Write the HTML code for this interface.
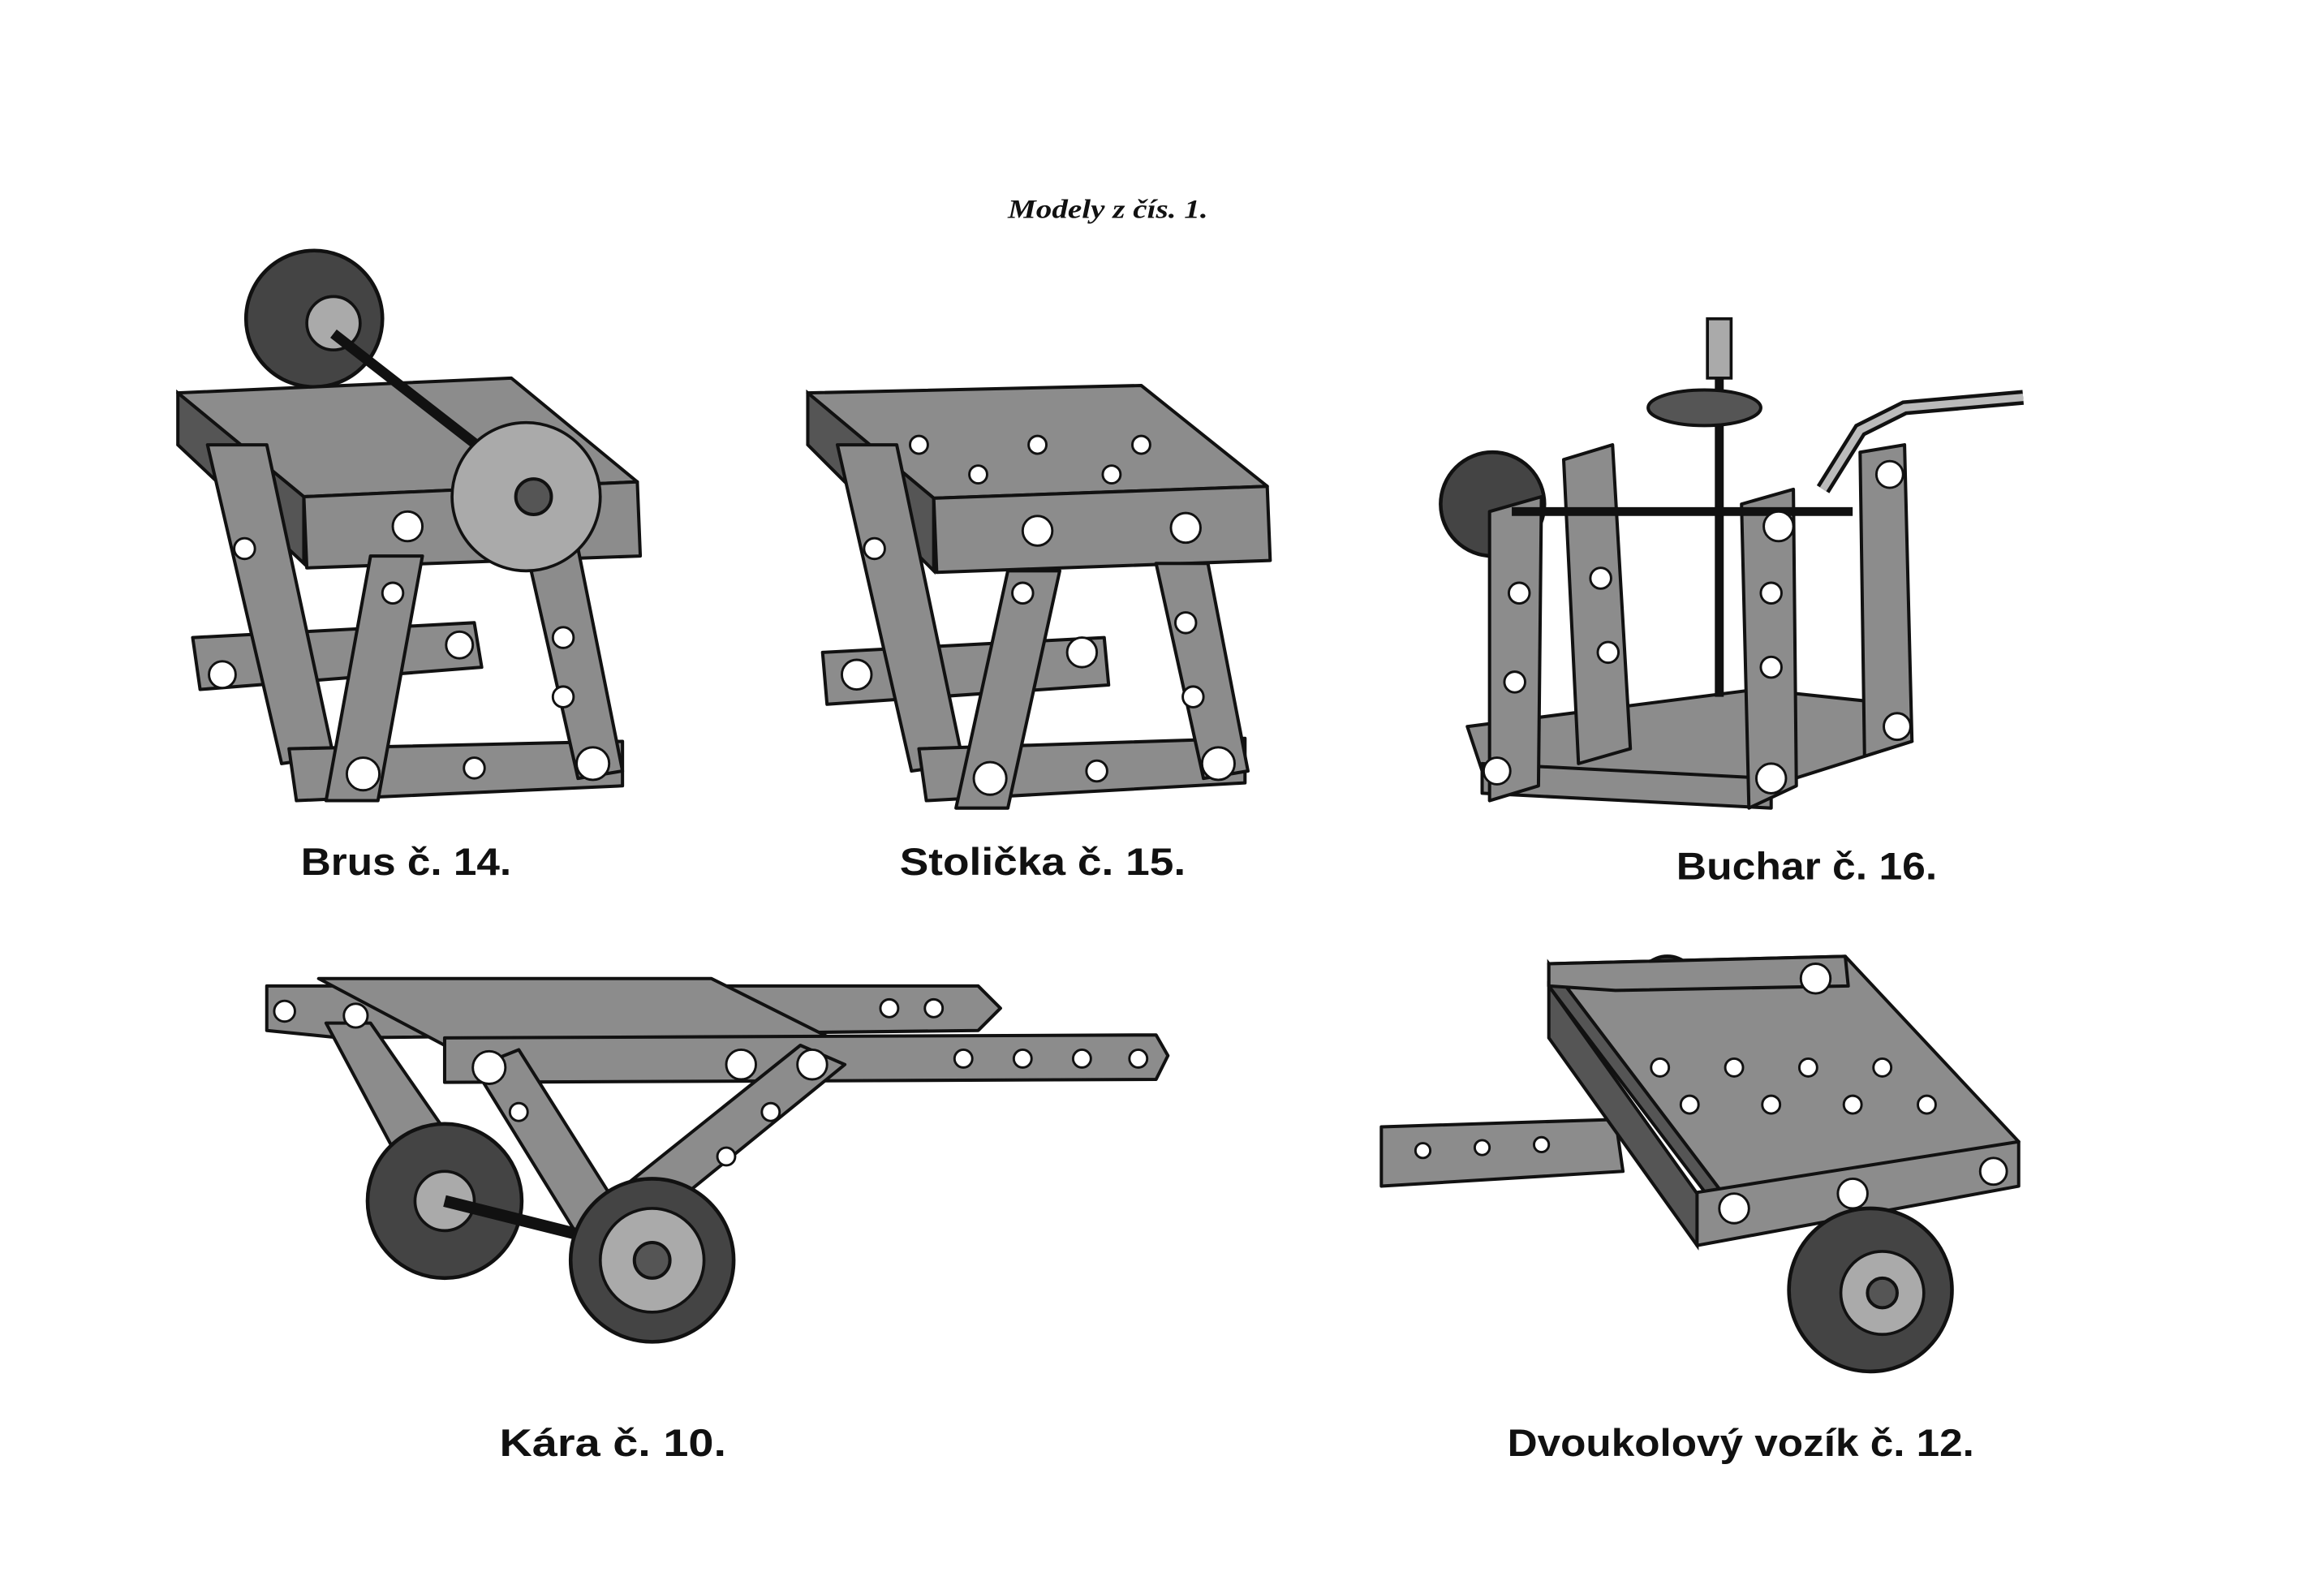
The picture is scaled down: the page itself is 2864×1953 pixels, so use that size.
<!DOCTYPE html>
<html><head><meta charset="utf-8"><style>
html,body{margin:0;padding:0;background:#fff;}
svg{display:block;}
.p{fill:#8c8c8c;stroke:#111;stroke-width:2.2;stroke-linejoin:round}
.d{fill:#555;stroke:#111;stroke-width:2.2}
.h{fill:#fff;stroke:#111;stroke-width:1.6}
.w{fill:#444;stroke:#111;stroke-width:2.5}
.l{fill:#aaa;stroke:#111;stroke-width:2}
.t{font-family:"Liberation Sans",sans-serif;font-size:26px;font-weight:bold;fill:#111}
</style></head><body>
<svg width="2864" height="1953" viewBox="0 0 1568 1069" preserveAspectRatio="none" xmlns="http://www.w3.org/2000/svg">
<rect width="1568" height="1069" fill="#fff"/>
<text x="680" y="147" textLength="135" lengthAdjust="spacingAndGlyphs" font-family="Liberation Serif,serif" font-style="italic" font-weight="bold" font-size="18" fill="#111">Modely z čís. 1.</text>

<!-- Brus -->
<g>
<circle class="w" cx="212" cy="215" r="46"/><circle class="l" cx="225" cy="218" r="18"/>
<polygon class="p" points="130,430 320,420 325,450 135,465"/>
<polygon class="p" points="120,265 345,255 430,325 205,335"/>
<polygon class="d" points="120,265 205,335 205,380 120,300"/>
<polygon class="p" points="205,335 430,325 432,375 207,383"/>
<polygon class="p" points="140,300 180,300 225,510 190,515"/>
<polygon class="p" points="195,505 420,500 420,530 200,540"/>
<polygon class="p" points="250,375 285,375 255,540 220,540"/>
<polygon class="p" points="355,370 390,370 420,520 390,525"/>
<line x1="225" y1="225" x2="360" y2="330" stroke="#111" stroke-width="7"/>
<circle class="l" cx="355" cy="335" r="50"/><circle class="d" cx="360" cy="335" r="12"/>
<circle class="h" cx="150" cy="455" r="9"/><circle class="h" cx="310" cy="435" r="9"/><circle class="h" cx="245" cy="522" r="11"/><circle class="h" cx="400" cy="515" r="11"/><circle class="h" cx="275" cy="355" r="10"/>
<circle class="h" cx="165" cy="370" r="7"/><circle class="h" cx="265" cy="400" r="7"/><circle class="h" cx="380" cy="430" r="7"/><circle class="h" cx="380" cy="470" r="7"/><circle class="h" cx="320" cy="518" r="7"/>
</g>

<!-- Stolicka -->
<g>
<polygon class="p" points="555,440 745,430 748,462 558,475"/>
<polygon class="p" points="545,265 770,260 855,328 630,336"/>
<polygon class="d" points="545,265 630,336 630,385 545,300"/>
<polygon class="p" points="630,336 855,328 857,378 632,386"/>
<polygon class="p" points="565,300 605,300 650,515 615,520"/>
<polygon class="p" points="620,505 840,498 840,528 625,540"/>
<polygon class="p" points="680,385 715,385 680,545 645,545"/>
<polygon class="p" points="780,380 815,380 842,520 812,525"/>
<circle class="h" cx="578" cy="455" r="10"/><circle class="h" cx="730" cy="440" r="10"/><circle class="h" cx="668" cy="525" r="11"/><circle class="h" cx="822" cy="515" r="11"/><circle class="h" cx="700" cy="358" r="10"/><circle class="h" cx="800" cy="356" r="10"/>
<circle class="h" cx="590" cy="370" r="7"/><circle class="h" cx="690" cy="400" r="7"/><circle class="h" cx="800" cy="420" r="7"/><circle class="h" cx="805" cy="470" r="7"/><circle class="h" cx="740" cy="520" r="7"/>
<circle class="h" cx="620" cy="300" r="6"/><circle class="h" cx="700" cy="300" r="6"/><circle class="h" cx="770" cy="300" r="6"/><circle class="h" cx="660" cy="320" r="6"/><circle class="h" cx="750" cy="320" r="6"/>
</g>

<!-- Buchar -->
<g>
<circle class="w" cx="1007" cy="340" r="35"/>
<polygon class="p" points="990,490 1185,465 1280,475 1290,500 1195,530 1000,520"/>
<polygon class="p" points="1000,515 1195,525 1195,545 1000,535"/>
<polygon class="p" points="1055,310 1088,300 1100,505 1065,515"/>
<polygon class="p" points="1175,340 1210,330 1212,530 1180,545"/>
<polygon class="p" points="1005,345 1040,335 1038,530 1005,540"/>
<polygon class="p" points="1255,305 1285,300 1290,500 1258,510"/>
<line x1="1160" y1="225" x2="1160" y2="470" stroke="#111" stroke-width="6"/>
<rect x="1152" y="215" width="16" height="40" class="l"/>
<ellipse class="d" cx="1150" cy="275" rx="38" ry="12"/>
<line x1="1020" y1="345" x2="1250" y2="345" stroke="#111" stroke-width="6"/>
<path d="M1230,330 L1255,290 L1285,275 L1365,268" fill="none" stroke="#111" stroke-width="10"/>
<path d="M1230,330 L1255,290 L1285,275 L1365,268" fill="none" stroke="#bbb" stroke-width="5"/>
<circle class="h" cx="1195" cy="525" r="10"/><circle class="h" cx="1280" cy="490" r="9"/><circle class="h" cx="1010" cy="520" r="9"/><circle class="h" cx="1200" cy="355" r="10"/><circle class="h" cx="1275" cy="320" r="9"/>
<circle class="h" cx="1080" cy="390" r="7"/><circle class="h" cx="1085" cy="440" r="7"/><circle class="h" cx="1195" cy="400" r="7"/><circle class="h" cx="1195" cy="450" r="7"/><circle class="h" cx="1025" cy="400" r="7"/><circle class="h" cx="1022" cy="460" r="7"/>
</g>

<!-- Kara -->
<g>
<polygon class="p" points="180,665 660,665 675,680 660,695 230,700 180,695"/>
<polygon class="p" points="215,660 480,660 560,700 300,705"/>
<polygon class="p" points="300,700 780,698 788,712 780,728 300,730"/>
<polygon class="p" points="220,690 250,690 340,820 300,840"/>
<polygon class="p" points="540,705 570,718 420,840 390,825"/>
<polygon class="p" points="320,720 350,708 430,835 400,850"/>
<circle class="w" cx="300" cy="810" r="52"/><circle class="l" cx="300" cy="810" r="20"/>
<line x1="300" y1="810" x2="440" y2="845" stroke="#111" stroke-width="8"/>
<circle class="w" cx="440" cy="850" r="55"/><circle class="l" cx="440" cy="850" r="35"/><circle class="d" cx="440" cy="850" r="12"/>
<circle class="h" cx="192" cy="682" r="7"/><circle class="h" cx="240" cy="685" r="8"/><circle class="h" cx="330" cy="720" r="11"/><circle class="h" cx="500" cy="718" r="10"/><circle class="h" cx="548" cy="718" r="10"/>
<circle class="h" cx="600" cy="680" r="6"/><circle class="h" cx="630" cy="680" r="6"/><circle class="h" cx="650" cy="714" r="6"/><circle class="h" cx="690" cy="714" r="6"/><circle class="h" cx="730" cy="714" r="6"/><circle class="h" cx="768" cy="714" r="6"/>
<circle class="h" cx="350" cy="750" r="6"/><circle class="h" cx="520" cy="750" r="6"/><circle class="h" cx="490" cy="780" r="6"/>
</g>

<!-- Vozik -->
<g>
<polygon class="p" points="932,760 1090,755 1095,790 932,800"/>
<circle class="w" cx="1125" cy="665" r="20"/>
<polygon class="p" points="1045,650 1245,645 1362,770 1170,815"/>
<polygon class="d" points="1045,650 1170,815 1170,830 1045,665"/>
<polygon class="p" points="1045,650 1245,645 1247,665 1090,668 1045,665"/>
<polygon class="p" points="1140,805 1362,770 1362,800 1145,840"/>
<polygon class="d" points="1045,665 1145,805 1145,840 1045,700"/>
<circle class="w" cx="1262" cy="870" r="55"/><circle class="l" cx="1270" cy="872" r="28"/><circle class="d" cx="1270" cy="872" r="10"/>
<circle class="h" cx="1170" cy="815" r="10"/><circle class="h" cx="1250" cy="805" r="10"/><circle class="h" cx="1345" cy="790" r="9"/><circle class="h" cx="1225" cy="660" r="10"/>
<circle class="h" cx="1120" cy="720" r="6"/><circle class="h" cx="1170" cy="720" r="6"/><circle class="h" cx="1220" cy="720" r="6"/><circle class="h" cx="1270" cy="720" r="6"/>
<circle class="h" cx="1140" cy="745" r="6"/><circle class="h" cx="1195" cy="745" r="6"/><circle class="h" cx="1250" cy="745" r="6"/><circle class="h" cx="1300" cy="745" r="6"/>
<circle class="h" cx="960" cy="776" r="5"/><circle class="h" cx="1000" cy="774" r="5"/><circle class="h" cx="1040" cy="772" r="5"/>
</g>

<text class="t" x="203" y="590" textLength="142" lengthAdjust="spacingAndGlyphs">Brus č. 14.</text>
<text class="t" x="607" y="590" textLength="193" lengthAdjust="spacingAndGlyphs">Stolička č. 15.</text>
<text class="t" x="1131" y="593" textLength="176" lengthAdjust="spacingAndGlyphs">Buchar č. 16.</text>
<text class="t" x="337" y="982" textLength="153" lengthAdjust="spacingAndGlyphs">Kára č. 10.</text>
<text class="t" x="1017" y="982" textLength="315" lengthAdjust="spacingAndGlyphs">Dvoukolový vozík č. 12.</text>
</svg>
</body></html>
